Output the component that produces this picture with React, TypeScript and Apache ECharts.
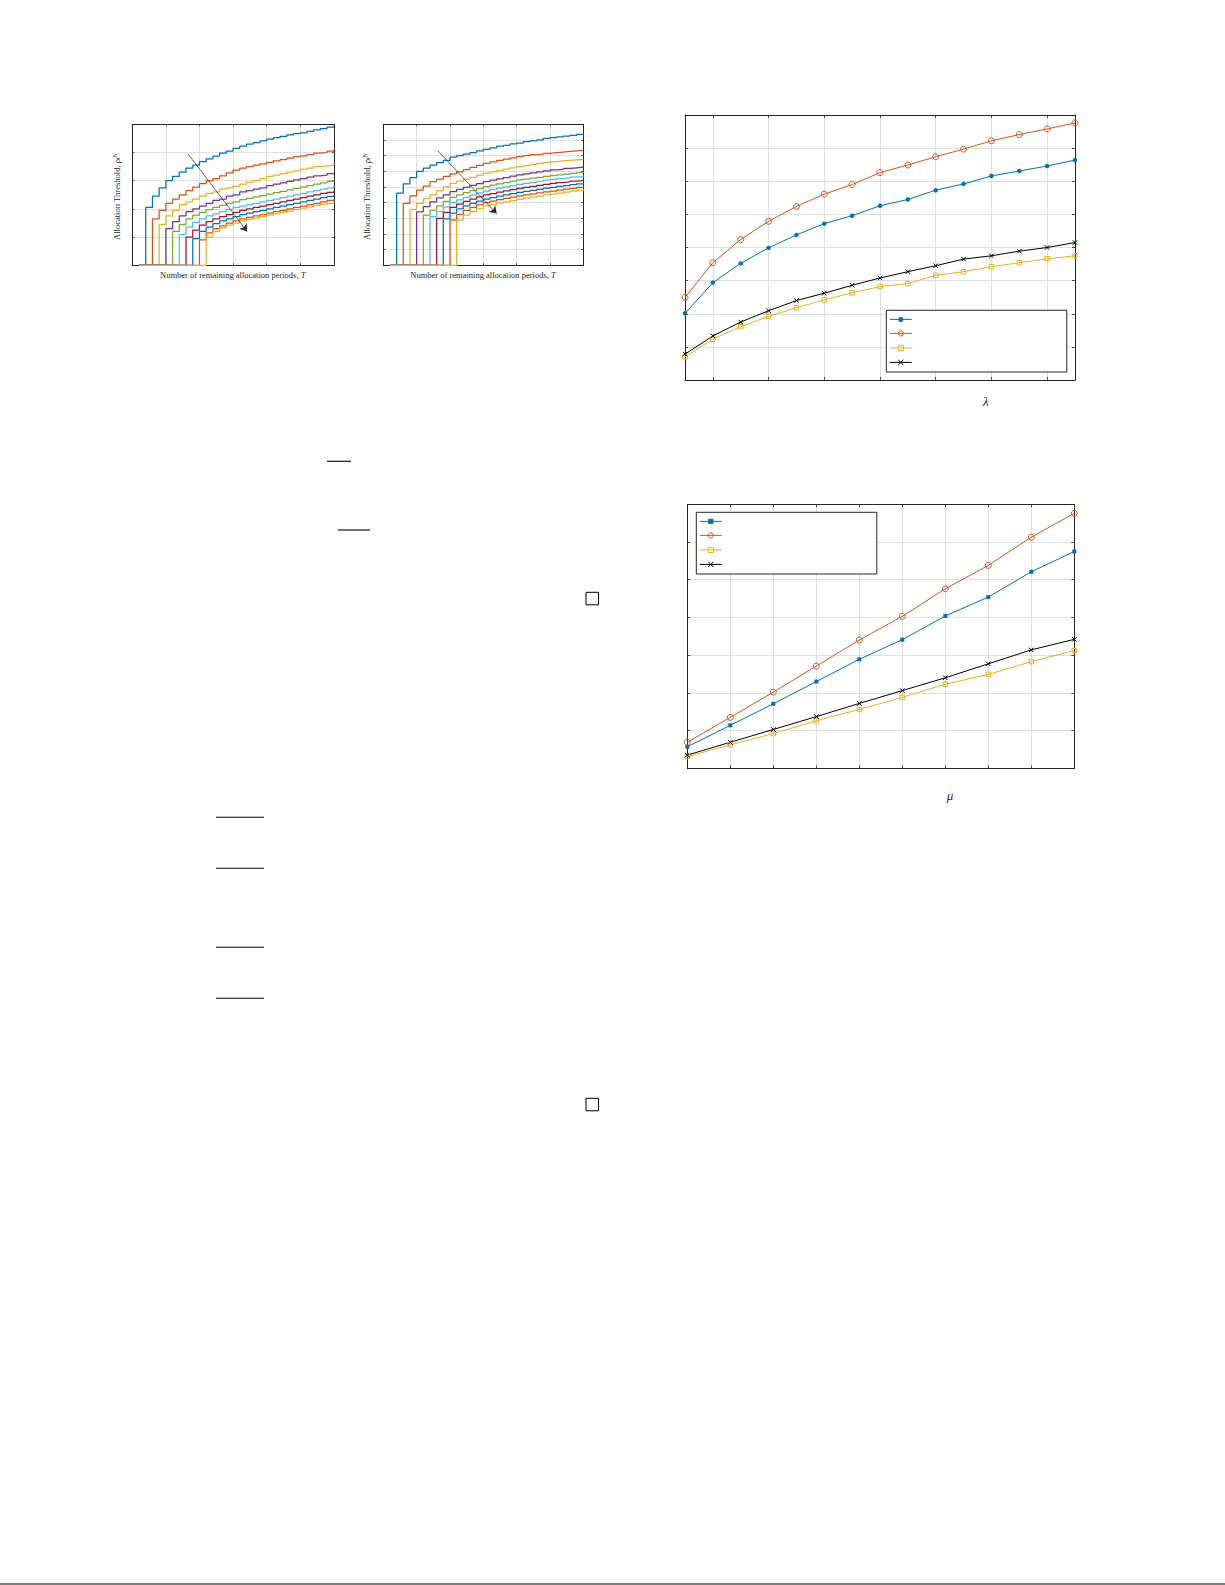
import React, { useEffect, useRef } from 'react';
import * as echarts from 'echarts';

// remaining allocation periods T (x axis of both step charts)
const periods = [1, 2, 3, 4, 5, 6, 7, 8, 9, 10, 11, 12, 13, 14, 15, 16, 17, 18, 19, 20, 21, 22, 23, 24, 25, 26, 27, 28, 29, 30];

// first period at which each threshold curve leaves zero
const leftStarts = [2, 3, 4, 5, 6, 7, 8, 9, 10, 11];
const rightStarts = [2, 3, 4, 5, 6, 7, 8, 9, 10, 11];

// left step chart, values from the start period up to T = 30
const leftThresholds = [
  [0.41, 0.49, 0.55, 0.6, 0.63, 0.66, 0.69, 0.71, 0.735, 0.755, 0.775, 0.795, 0.81, 0.83, 0.845, 0.86, 0.87, 0.882, 0.894, 0.905, 0.915, 0.925, 0.933, 0.94, 0.95, 0.96, 0.97, 0.98, 0.99],
  [0.33, 0.39, 0.44, 0.47, 0.5, 0.53, 0.555, 0.58, 0.6, 0.615, 0.635, 0.655, 0.675, 0.69, 0.7, 0.71, 0.72, 0.73, 0.74, 0.75, 0.76, 0.77, 0.776, 0.785, 0.795, 0.8, 0.81, 0.817],
  [0.29, 0.35, 0.39, 0.43, 0.45, 0.47, 0.49, 0.51, 0.52, 0.54, 0.55, 0.56, 0.575, 0.59, 0.6, 0.615, 0.63, 0.64, 0.65, 0.66, 0.67, 0.68, 0.69, 0.7, 0.705, 0.71, 0.72],
  [0.26, 0.31, 0.35, 0.38, 0.4, 0.42, 0.44, 0.46, 0.47, 0.49, 0.5, 0.52, 0.53, 0.54, 0.55, 0.565, 0.575, 0.585, 0.595, 0.605, 0.615, 0.625, 0.635, 0.64, 0.65, 0.657],
  [0.24, 0.29, 0.33, 0.355, 0.375, 0.395, 0.41, 0.425, 0.44, 0.45, 0.465, 0.475, 0.485, 0.495, 0.505, 0.515, 0.525, 0.535, 0.545, 0.555, 0.565, 0.575, 0.585, 0.595, 0.605],
  [0.22, 0.27, 0.305, 0.33, 0.35, 0.365, 0.38, 0.395, 0.41, 0.42, 0.43, 0.44, 0.45, 0.46, 0.47, 0.48, 0.49, 0.5, 0.51, 0.52, 0.53, 0.54, 0.55, 0.562],
  [0.2, 0.25, 0.285, 0.31, 0.33, 0.345, 0.36, 0.375, 0.39, 0.4, 0.41, 0.42, 0.43, 0.44, 0.45, 0.46, 0.47, 0.48, 0.49, 0.5, 0.51, 0.518, 0.527],
  [0.19, 0.24, 0.27, 0.295, 0.315, 0.33, 0.345, 0.36, 0.37, 0.38, 0.39, 0.4, 0.41, 0.42, 0.43, 0.44, 0.45, 0.46, 0.47, 0.48, 0.488, 0.496],
  [0.18, 0.23, 0.26, 0.28, 0.3, 0.315, 0.33, 0.34, 0.35, 0.36, 0.37, 0.38, 0.39, 0.4, 0.41, 0.42, 0.43, 0.44, 0.45, 0.46, 0.468],
  [0.2, 0.24, 0.265, 0.285, 0.3, 0.315, 0.325, 0.335, 0.345, 0.355, 0.365, 0.375, 0.385, 0.395, 0.405, 0.415, 0.425, 0.433, 0.44, 0.447],
];

// right step chart
const rightThresholds = [
  [0.46, 0.52, 0.56, 0.6, 0.62, 0.64, 0.655, 0.67, 0.69, 0.7, 0.71, 0.72, 0.73, 0.74, 0.75, 0.76, 0.765, 0.775, 0.78, 0.79, 0.795, 0.8, 0.81, 0.815, 0.82, 0.825, 0.83, 0.835, 0.84],
  [0.396, 0.443, 0.48, 0.506, 0.534, 0.55, 0.567, 0.583, 0.597, 0.61, 0.625, 0.638, 0.651, 0.66, 0.67, 0.678, 0.686, 0.694, 0.7, 0.706, 0.71, 0.715, 0.719, 0.723, 0.727, 0.73, 0.733, 0.736],
  [0.357, 0.396, 0.425, 0.45, 0.476, 0.5, 0.523, 0.537, 0.55, 0.562, 0.575, 0.587, 0.596, 0.605, 0.614, 0.622, 0.63, 0.637, 0.644, 0.65, 0.656, 0.662, 0.666, 0.67, 0.673, 0.676, 0.679],
  [0.341, 0.375, 0.405, 0.43, 0.45, 0.47, 0.484, 0.497, 0.51, 0.522, 0.534, 0.543, 0.552, 0.56, 0.569, 0.577, 0.584, 0.59, 0.597, 0.603, 0.609, 0.613, 0.618, 0.622, 0.626, 0.63],
  [0.32, 0.352, 0.38, 0.408, 0.434, 0.45, 0.464, 0.477, 0.49, 0.502, 0.511, 0.52, 0.528, 0.537, 0.545, 0.55, 0.556, 0.561, 0.567, 0.572, 0.577, 0.582, 0.587, 0.592, 0.598],
  [0.31, 0.342, 0.372, 0.4, 0.418, 0.434, 0.448, 0.462, 0.474, 0.483, 0.492, 0.5, 0.509, 0.517, 0.523, 0.53, 0.536, 0.543, 0.549, 0.554, 0.558, 0.563, 0.567, 0.572],
  [0.3, 0.338, 0.37, 0.39, 0.408, 0.423, 0.437, 0.449, 0.458, 0.467, 0.475, 0.483, 0.491, 0.497, 0.504, 0.51, 0.517, 0.523, 0.528, 0.532, 0.537, 0.541, 0.545],
  [0.297, 0.333, 0.36, 0.38, 0.396, 0.41, 0.423, 0.432, 0.441, 0.45, 0.458, 0.466, 0.472, 0.479, 0.485, 0.492, 0.498, 0.503, 0.508, 0.515, 0.52, 0.525],
  [0.29, 0.325, 0.35, 0.37, 0.386, 0.4, 0.41, 0.419, 0.427, 0.435, 0.443, 0.45, 0.456, 0.462, 0.468, 0.474, 0.48, 0.486, 0.491, 0.497, 0.502],
  [0.288, 0.32, 0.343, 0.362, 0.379, 0.388, 0.397, 0.405, 0.413, 0.421, 0.428, 0.435, 0.442, 0.449, 0.455, 0.461, 0.467, 0.473, 0.479, 0.485],
];

const stepColors = ['#0072BD', '#D95319', '#EDB120', '#7E2F8E', '#77AC30', '#4DBEEE', '#A2142F', '#0072BD', '#D95319', '#EDB120'];

// arrow annotations, [T, threshold] start and end
const leftArrow = [[8.3, 0.79], [17.1, 0.24]];
const rightArrow = [[8.2, 0.73], [17.0, 0.33]];

// lambda chart
const lambdaCats = ['1', '2', '3', '4', '5', '6', '7', '8', '9', '10', '11', '12', '13', '14', '15'];
const lambdaBlue = [2.01, 2.94, 3.52, 3.99, 4.38, 4.72, 4.96, 5.26, 5.45, 5.73, 5.92, 6.16, 6.31, 6.46, 6.64];
const lambdaOrange = [2.49, 3.54, 4.24, 4.79, 5.24, 5.61, 5.9, 6.26, 6.49, 6.74, 6.97, 7.22, 7.41, 7.58, 7.76];
const lambdaYellow = [0.7, 1.23, 1.61, 1.92, 2.18, 2.42, 2.63, 2.82, 2.91, 3.16, 3.27, 3.42, 3.54, 3.66, 3.75];
const lambdaBlack = [0.78, 1.33, 1.75, 2.09, 2.4, 2.62, 2.86, 3.08, 3.27, 3.45, 3.65, 3.75, 3.89, 4.0, 4.15];

// mu chart
const muCats = ['1', '2', '3', '4', '5', '6', '7', '8', '9', '10'];
const muBlue = [0.57, 1.14, 1.71, 2.3, 2.89, 3.41, 4.04, 4.54, 5.21, 5.75];
const muOrange = [0.69, 1.35, 2.02, 2.71, 3.4, 4.03, 4.76, 5.38, 6.13, 6.76];
const muYellow = [0.31, 0.62, 0.92, 1.26, 1.56, 1.88, 2.23, 2.49, 2.83, 3.12];
const muBlack = [0.35, 0.69, 1.03, 1.37, 1.72, 2.06, 2.4, 2.77, 3.14, 3.42];

const FRAME = '#262626';
const GRID = '#dcdcdc';
const SERIF = '"Liberation Serif", "DejaVu Serif", serif';
const CROSS = 'path://M0,0L10,10M10,0L0,10';
const CLEAR = 'rgba(0,0,0,0)';

const stepData = (start: number, values: number[]) =>
  periods.map((t) => [t, t < start ? 0 : values[t - start]]);

const valueAxis = (gridIndex: number, position: string, max: number, interval: number, split: boolean, tick: number) => ({
  type: 'value',
  gridIndex,
  position,
  min: 0,
  max,
  interval,
  axisLine: { show: true, onZero: false, lineStyle: { color: FRAME, width: 1 } },
  axisTick: { show: true, inside: true, length: tick, lineStyle: { color: FRAME, width: 0.8 } },
  axisLabel: { show: false },
  splitLine: { show: split, showMinLine: false, showMaxLine: false, lineStyle: { color: GRID, width: 0.9 } },
});

const catAxis = (gridIndex: number, position: string, data: string[], every: (i: number) => boolean, split: boolean) => ({
  type: 'category',
  gridIndex,
  position,
  data,
  boundaryGap: false,
  axisLine: { show: true, onZero: false, lineStyle: { color: FRAME, width: 1 } },
  axisTick: { show: true, inside: true, length: 3, interval: (i: number) => every(i), lineStyle: { color: FRAME, width: 0.8 } },
  axisLabel: { show: false },
  splitLine: { show: split, interval: (i: number) => every(i) && i > 0 && i < data.length - 1, lineStyle: { color: GRID, width: 0.9 } },
});

const arrowLine = (arrow: number[][]) => ({
  silent: true,
  symbol: ['none', 'arrow'],
  symbolSize: 7,
  label: { show: false },
  lineStyle: { color: '#2a2a2a', width: 0.7, type: 'solid' },
  data: [[{ coord: arrow[0] }, { coord: arrow[1] }]],
});

const stepSeries = (curves: number[][], starts: number[], axis: number, arrow: number[][]) =>
  curves.map((values, i) => ({
    type: 'line',
    xAxisIndex: axis,
    yAxisIndex: axis,
    step: 'end',
    symbol: 'none',
    silent: true,
    lineStyle: { color: stepColors[i], width: 1.25 },
    itemStyle: { color: stepColors[i] },
    data: stepData(starts[i], values),
    markLine: i === 0 ? arrowLine(arrow) : undefined,
  }));

const markerSeries = (name: string, axis: number, data: number[], kind: string, color: string) => {
  const styles: Record<string, any> = {
    dot: { symbol: 'circle', symbolSize: 4.5, itemStyle: { color } },
    square: { symbol: 'rect', symbolSize: 4, itemStyle: { color } },
    circle: { symbol: 'circle', symbolSize: 6, itemStyle: { color: CLEAR, borderColor: color, borderWidth: 1 } },
    box: { symbol: 'rect', symbolSize: 4.5, itemStyle: { color: CLEAR, borderColor: color, borderWidth: 1 } },
    cross: { symbol: CROSS, symbolSize: 4.5, itemStyle: { color: CLEAR, borderColor: color, borderWidth: 1 } },
  };
  return {
    name,
    type: 'line',
    xAxisIndex: axis,
    yAxisIndex: axis,
    silent: true,
    lineStyle: { color, width: 1 },
    ...styles[kind],
    data,
  };
};

const rich = {
  a: { fontFamily: SERIF, fontSize: 8.5, fill: FRAME },
  i: { fontFamily: SERIF, fontSize: 8.5, fontStyle: 'italic', fill: FRAME },
  s: { fontFamily: SERIF, fontSize: 6, fontStyle: 'italic', verticalAlign: 'bottom', fill: FRAME },
  p: { fontFamily: SERIF, fontSize: 6, fontStyle: 'italic', verticalAlign: 'top', fill: FRAME },
};

const label = (x: number, y: number, text: string, rotate: boolean) => ({
  type: 'text',
  x,
  y,
  rotation: rotate ? Math.PI / 2 : 0,
  silent: true,
  style: { text, rich, align: 'center', verticalAlign: 'middle', textAlign: 'center', textVerticalAlign: 'middle', fontFamily: SERIF, fontSize: 8.5, fill: FRAME },
});

const hline = (x1: number, x2: number, y: number, w = 1.1) => ({
  type: 'line',
  silent: true,
  shape: { x1, y1: y, x2, y2: y },
  style: { stroke: '#000', lineWidth: w },
});

const box = (x: number, y: number, size: number) => ({
  type: 'rect',
  silent: true,
  shape: { x, y, width: size, height: size },
  style: { fill: 'none', stroke: '#000', lineWidth: 1 },
});

const greek = (x: number, y: number, text: string) => ({
  type: 'text',
  x,
  y,
  silent: true,
  style: { text, align: 'center', verticalAlign: 'middle', textAlign: 'center', textVerticalAlign: 'middle', fontFamily: SERIF, fontSize: 13, fontStyle: 'italic', fill: FRAME },
});

const legendBox = (left: number, top: number, names: string[]) => ({
  show: true,
  orient: 'vertical',
  left,
  top,
  data: names,
  formatter: () => '',
  selectedMode: false,
  padding: [6.5, 150, 6.5, 3],
  itemWidth: 22,
  itemHeight: 6.5,
  itemGap: 8.3,
  lineStyle: { width: 1 },
  itemStyle: { borderWidth: 1 },
  textStyle: { fontSize: 6, lineHeight: 6.5 },
  borderColor: FRAME,
  borderWidth: 1,
  backgroundColor: '#fff',
});

const App: React.FC = () => {
  const chartRef = useRef<HTMLDivElement>(null);

  useEffect(() => {
    if (!chartRef.current) return;
    const chart = echarts.init(chartRef.current, undefined, { renderer: 'svg' });

    const option = {
      animation: false,
      backgroundColor: '#fff',
      grid: [
        { left: 132.3, top: 124.3, width: 201.5, height: 141 },
        { left: 383.3, top: 124.3, width: 200, height: 141 },
        { left: 685, top: 115, width: 390, height: 265 },
        { left: 687.3, top: 504.3, width: 387, height: 264 },
      ],
      xAxis: [
        valueAxis(0, 'bottom', 30, 5, true, 2),
        valueAxis(0, 'top', 30, 5, false, 2),
        valueAxis(1, 'bottom', 30, 5, true, 2),
        valueAxis(1, 'top', 30, 5, false, 2),
        catAxis(2, 'bottom', lambdaCats, (i) => i % 2 === 1, true),
        catAxis(2, 'top', lambdaCats, (i) => i % 2 === 1, false),
        catAxis(3, 'bottom', muCats, () => true, true),
        catAxis(3, 'top', muCats, () => true, false),
      ],
      yAxis: [
        valueAxis(0, 'left', 1, 0.2, true, 2),
        valueAxis(0, 'right', 1, 0.2, false, 2),
        valueAxis(1, 'left', 0.9, 0.1, true, 2),
        valueAxis(1, 'right', 0.9, 0.1, false, 2),
        valueAxis(2, 'left', 8, 1, true, 3),
        valueAxis(2, 'right', 8, 1, false, 3),
        valueAxis(3, 'left', 7, 1, true, 3),
        valueAxis(3, 'right', 7, 1, false, 3),
      ],
      legend: [
        legendBox(886.3, 310.3, ['lambda-1', 'lambda-2', 'lambda-3', 'lambda-4']),
        legendBox(696.3, 512.3, ['mu-1', 'mu-2', 'mu-3', 'mu-4']),
      ],
      series: [
        ...stepSeries(leftThresholds, leftStarts, 0, leftArrow),
        ...stepSeries(rightThresholds, rightStarts, 2, rightArrow),
        markerSeries('lambda-1', 4, lambdaBlue, 'dot', '#0072BD'),
        markerSeries('lambda-2', 4, lambdaOrange, 'circle', '#D95319'),
        markerSeries('lambda-3', 4, lambdaYellow, 'box', '#EDB120'),
        markerSeries('lambda-4', 4, lambdaBlack, 'cross', '#000000'),
        markerSeries('mu-1', 6, muBlue, 'square', '#0072BD'),
        markerSeries('mu-2', 6, muOrange, 'circle', '#D95319'),
        markerSeries('mu-3', 6, muYellow, 'box', '#EDB120'),
        markerSeries('mu-4', 6, muBlack, 'cross', '#000000'),
      ],
      graphic: {
        elements: [
          label(116.7, 196.7, '{a|Allocation Threshold, ρ}{s|t}{p|N}', true),
          label(366.7, 196.7, '{a|Allocation Threshold, ρ}{s|t}{p|N}', true),
          label(232.7, 275, '{a|Number of remaining allocation periods, }{i|T}', false),
          label(483, 275, '{a|Number of remaining allocation periods, }{i|T}', false),
          greek(985.7, 401.7, 'λ'),
          greek(950, 795, 'μ'),
          hline(327, 351, 461.3),
          hline(338, 370, 530),
          hline(216, 264, 817.3),
          hline(216, 264, 868.3),
          hline(216, 264, 947.3),
          hline(216, 264, 998.3),
          box(586, 592.3, 12.5),
          box(586, 1098.3, 12.5),
          hline(0, 1225, 1584, 1.2),
        ],
      },
    };

    chart.setOption(option as any);

    return () => {
      chart.dispose();
    };
  }, []);

  return (
    <div
      ref={chartRef}
      style={{ position: 'absolute', left: 0, top: 0, width: '1225px', height: '1585px', background: '#fff' }}
    />
  );
};

export default App;
